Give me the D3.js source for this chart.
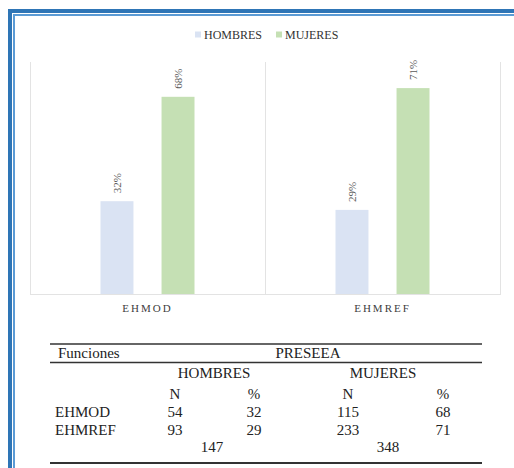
<!DOCTYPE html>
<html>
<head>
<meta charset="utf-8">
<script src="https://cdn.jsdelivr.net/npm/d3@7"></script>
<style>
  html, body { margin: 0; padding: 0; background: #fff; }
  svg { display: block; }
  svg text { font-family: "Liberation Serif", "Times New Roman", Times, "DejaVu Serif", serif !important; }
</style>
</head>
<body>
<svg id="chart" width="514" height="468"></svg>
<script>
// Functions by sex (PRESEEA corpus)
const categories = ["EHMOD", "EHMREF"];
const series = ["HOMBRES", "MUJERES"];
const hombresPct = [32, 29];
const mujeresPct = [68, 71];
const hombresN = [54, 93];
const mujeresN = [115, 233];
const yMax = 80;

const colors = { HOMBRES: "#dae3f3", MUJERES: "#c5e0b4" };
const serif = "'Liberation Serif', 'Times New Roman', Times, 'DejaVu Serif', serif";

const svg = d3.select("#chart");

// Double blue frame
svg.append("rect").attr("x", 10).attr("y", 11).attr("width", 600).attr("height", 600)
  .attr("fill", "none").attr("stroke", "#2e75b6").attr("stroke-width", 4);
svg.append("rect").attr("x", 14).attr("y", 15).attr("width", 600).attr("height", 600)
  .attr("fill", "none").attr("stroke", "#5b9bd5").attr("stroke-width", 2);

// ---- Bar chart ----
const plot = { left: 30, right: 500, top: 62, bottom: 294 };

const x0 = d3.scaleBand().domain(categories).range([plot.left, plot.right]).padding(0);
const pairHalf = 47;
const x1 = d3.scaleBand().domain(series)
  .range([x0.bandwidth() / 2 - pairHalf, x0.bandwidth() / 2 + pairHalf])
  .paddingInner(0.46).paddingOuter(0);
const y = d3.scaleLinear().domain([0, yMax]).range([plot.bottom, plot.top]);

const rows = categories.map((c, i) => ({
  cat: c,
  values: [
    { key: "HOMBRES", v: hombresPct[i] },
    { key: "MUJERES", v: mujeresPct[i] }
  ]
}));

// Category separators and baseline
const grid = svg.append("g").attr("stroke", "#e3e3e3").attr("stroke-width", 1);
const seps = categories.map(c => x0(c)).concat([x0.range()[1]]);
grid.selectAll("line.sep").data(seps).join("line")
  .attr("class", "sep")
  .attr("x1", d => Math.round(d) + 0.5).attr("x2", d => Math.round(d) + 0.5)
  .attr("y1", y(yMax)).attr("y2", y(0));
grid.append("line")
  .attr("x1", plot.left).attr("x2", plot.right + 1)
  .attr("y1", y(0) + 0.5).attr("y2", y(0) + 0.5);

const groups = svg.append("g").selectAll("g").data(rows).join("g")
  .attr("transform", d => `translate(${x0(d.cat)},0)`);

groups.selectAll("rect").data(d => d.values).join("rect")
  .attr("x", d => x1(d.key))
  .attr("width", x1.bandwidth())
  .attr("y", d => y(d.v))
  .attr("height", d => y(0) - y(d.v))
  .attr("fill", d => colors[d.key]);

groups.selectAll("text").data(d => d.values).join("text")
  .attr("transform", d => `translate(${x1(d.key) + x1.bandwidth() / 2},${y(d.v) - 8}) rotate(-90)`)
  .attr("dy", "0.35em")
  .attr("text-anchor", "start")
  .attr("font-family", serif)
  .attr("font-size", 11)
  .attr("fill", "#595959")
  .text(d => d.v + "%");

// Category axis
const xAxis = svg.append("g")
  .attr("transform", `translate(0,${y(0)})`)
  .call(d3.axisBottom(x0).tickSize(0).tickPadding(10));
xAxis.attr("font-family", serif);
xAxis.select(".domain").remove();
xAxis.selectAll("text")
  .attr("font-size", 11)
  .attr("letter-spacing", "2px")
  .attr("fill", "#404040");

// Legend
const legend = svg.append("g").attr("font-family", serif).attr("font-size", 12).attr("fill", "#333");
let lx = 195;
series.forEach(s => {
  legend.append("rect").attr("x", lx).attr("y", 31.5).attr("width", 6).attr("height", 6)
    .attr("fill", colors[s]);
  const t = legend.append("text").attr("x", lx + 9).attr("y", 39).text(s);
  lx += 9 + t.node().getComputedTextLength() + 14;
});

// ---- Summary table ----
const table = svg.append("g").attr("font-family", serif).attr("font-size", 15).attr("fill", "#222");
const ruleX = [50, 482];
const rule = (yy, w) => table.append("line")
  .attr("x1", ruleX[0]).attr("x2", ruleX[1]).attr("y1", yy).attr("y2", yy)
  .attr("stroke", "#333").attr("stroke-width", w);

rule(344, 1.5);
rule(362.5, 1.5);
rule(463, 2);

const colN1 = 175, colP1 = 254, colN2 = 348, colP2 = 443;
const txt = (xx, yy, s, anchor) => table.append("text")
  .attr("x", xx).attr("y", yy).attr("text-anchor", anchor || "middle").text(s);

txt(58, 358, "Funciones", "start");
txt(308, 358, "PRESEEA");
txt(214, 378, "HOMBRES");
txt(383, 378, "MUJERES");
[[colN1, "N"], [colP1, "%"], [colN2, "N"], [colP2, "%"]].forEach(([xx, s]) => txt(xx, 399, s));

categories.forEach((c, i) => {
  const yy = 417 + i * 18;
  txt(55, yy, c, "start");
  txt(colN1, yy, hombresN[i]);
  txt(colP1, yy, hombresPct[i]);
  txt(colN2, yy, mujeresN[i]);
  txt(colP2, yy, mujeresPct[i]);
});

txt(212, 452, d3.sum(hombresN));
txt(388, 452, d3.sum(mujeresN));
</script>
</body>
</html>
